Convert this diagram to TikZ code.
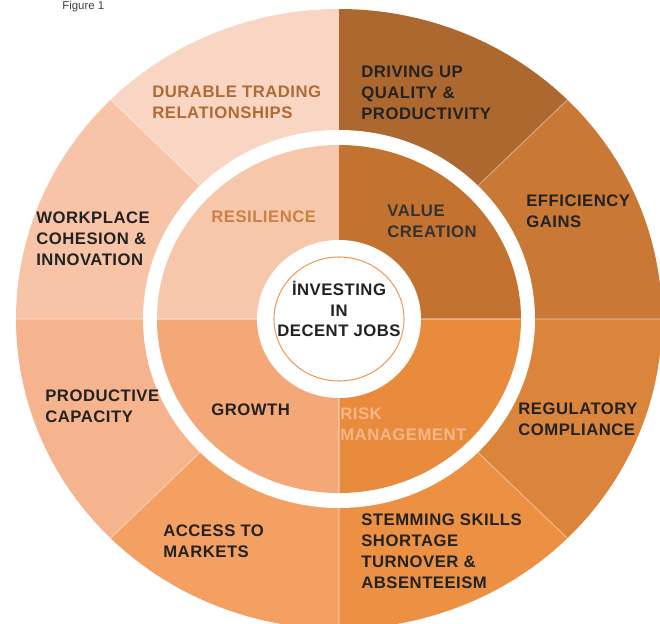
\documentclass[tikz,border=0pt]{standalone}
\usepackage{fontspec}
\setsansfont{Liberation Sans}
\newfontfamily\wheelfont[LetterSpace=3]{Liberation Sans}
\usepackage{tikz}
\usetikzlibrary{positioning}

\definecolor{durable}{HTML}{F9D6C4}
\definecolor{workplace}{HTML}{F7C4A7}
\definecolor{productive}{HTML}{F5B48E}
\definecolor{access}{HTML}{F4A062}
\definecolor{stemming}{HTML}{EC9044}
\definecolor{regulatory}{HTML}{DB843C}
\definecolor{efficiency}{HTML}{C97836}
\definecolor{driving}{HTML}{AD682F}
\definecolor{resilience}{HTML}{F7C7AC}
\definecolor{value}{HTML}{C3732F}
\definecolor{growth}{HTML}{F5A877}
\definecolor{risk}{HTML}{E98B3D}
\definecolor{darktext}{HTML}{222222}
\definecolor{browntext}{HTML}{B06A35}
\definecolor{resiltext}{HTML}{C98042}
\definecolor{risktext}{HTML}{F6B68A}
\definecolor{hubline}{HTML}{EF9A55}

\begin{document}
\begin{tikzpicture}[x=0.02cm,y=0.02cm]
          \useasboundingbox (0,0) rectangle (660,-623);
          \coordinate (C) at (339,-319);

          \tikzstyle{sepline}=[white,opacity=0.35,line width=0.6pt]
          \tikzstyle{every node}=[inner sep=0pt,anchor=west,align=left,text=darktext,
                font=\wheelfont\bfseries\fontsize{9.5}{11.9}\selectfont]

          % anneau exterieur
          \fill[durable] (C) -- ++(90:323 and 310) arc[start angle=90,end angle=135,x radius=323,y radius=310] -- cycle;
          \fill[workplace] (C) -- ++(135:323 and 310) arc[start angle=135,end angle=180,x radius=323,y radius=310] -- cycle;
          \fill[productive] (C) -- ++(180:323 and 310) arc[start angle=180,end angle=225,x radius=323,y radius=310] -- cycle;
          \fill[access] (C) -- ++(225:323 and 310) arc[start angle=225,end angle=270,x radius=323,y radius=310] -- cycle;
          \fill[stemming] (C) -- ++(270:323 and 310) arc[start angle=270,end angle=315,x radius=323,y radius=310] -- cycle;
          \fill[regulatory] (C) -- ++(315:323 and 310) arc[start angle=315,end angle=360,x radius=323,y radius=310] -- cycle;
          \fill[efficiency] (C) -- ++(0:323 and 310) arc[start angle=0,end angle=45,x radius=323,y radius=310] -- cycle;
          \fill[driving] (C) -- ++(45:323 and 310) arc[start angle=45,end angle=90,x radius=323,y radius=310] -- cycle;

          \draw[sepline] (C) -- ++(0:323 and 310) (C) -- ++(45:323 and 310)
                (C) -- ++(135:323 and 310) (C) -- ++(180:323 and 310)
                (C) -- ++(225:323 and 310) (C) -- ++(270:323 and 310)
                (C) -- ++(315:323 and 310);

          % anneau blanc
          \fill[white] (C) ellipse[x radius=196,y radius=189];

          % quadrants interieurs
          \fill[resilience] (C) -- ++(90:182 and 174) arc[start angle=90,end angle=180,x radius=182,y radius=174] -- cycle;
          \fill[growth] (C) -- ++(180:182 and 174) arc[start angle=180,end angle=270,x radius=182,y radius=174] -- cycle;
          \fill[risk] (C) -- ++(270:182 and 174) arc[start angle=270,end angle=360,x radius=182,y radius=174] -- cycle;
          \fill[value] (C) -- ++(0:182 and 174) arc[start angle=0,end angle=90,x radius=182,y radius=174] -- cycle;

          \draw[sepline] (C) -- ++(0:182 and 174) (C) -- ++(180:182 and 174)
                (C) -- ++(270:182 and 174);

          % centre
          \fill[white] (C) ellipse[x radius=82,y radius=79];
          \draw[hubline,line width=0.6pt] (C) ellipse[x radius=65,y radius=62];

          \node[anchor=base west,font=\sffamily\fontsize{6.5}{8}\selectfont,text=black!75] (fig) at (62,-9) {Figure 1};

          % textes
          \node[text=browntext] (durable) at (152,-102) {DURABLE TRADING\\RELATIONSHIPS};
          \node (driving) at (361,-93) {DRIVING UP\\QUALITY \&\\PRODUCTIVITY};
          \node (efficiency) at (526,-211.5) {EFFICIENCY\\GAINS};
          \node (workplace) at (36,-239) {WORKPLACE\\COHESION \&\\INNOVATION};
          \node[text=resiltext] (resil) at (211,-217) {RESILIENCE};
          \node[text=black!80] (value) at (387,-221.5) {VALUE\\CREATION};
          \node[anchor=center,align=center] (hub) at (339,-309) {İNVESTING\\IN\\DECENT JOBS};
          \node (productive) at (45,-406.5) {PRODUCTIVE\\CAPACITY};
          \node (growth) at (211,-410) {GROWTH};
          \node[text=risktext] (risk) at (340,-424) {RISK\\MANAGEMENT};
          \node (regulatory) at (518,-419.5) {REGULATORY\\COMPLIANCE};
          \node (access) at (163,-541.5) {ACCESS TO\\MARKETS};
          \node (stemming) at (361,-551) {STEMMING SKILLS\\SHORTAGE\\TURNOVER \&\\ABSENTEEISM};

\end{tikzpicture}
\end{document}
